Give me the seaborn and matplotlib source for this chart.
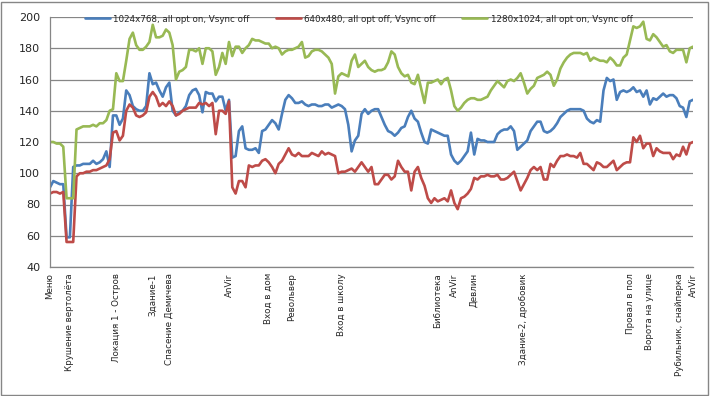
import matplotlib
matplotlib.use("Agg")
import matplotlib.pyplot as plt
import matplotlib.patches as mpatches
from matplotlib.lines import Line2D
from matplotlib.ticker import MultipleLocator
import pandas as pd
import seaborn as sns

series_names = ["1024x768, all opt on, Vsync off",
                "640x480, all opt off, Vsync off",
                "1280x1024, all opt on, Vsync off"]
colors = ["#4A7EBB", "#BE4B48", "#98B954"]

fps_1024 = [
    91, 95, 94, 93, 93, 59, 59, 104, 105, 105,
    106, 106, 106, 108, 106, 107, 109, 114, 104, 137,
    137, 131, 135, 153, 150, 143, 141, 140, 140, 143,
    164, 157, 158, 153, 149, 155, 158, 140, 137, 139,
    140, 143, 150, 153, 154, 150, 139, 152, 151, 151,
    146, 149, 149, 140, 147, 110, 111, 127, 130, 116,
    115, 115, 116, 113, 127, 128, 131, 134, 132, 128,
    138, 147, 150, 148, 145, 145, 146, 144, 143, 144,
    144, 143, 143, 144, 144, 142, 143, 144, 143, 141,
    131, 114, 121, 124, 138, 141, 138, 140, 141, 141,
    136, 131, 127, 126, 124, 126, 129, 130, 136, 140,
    135, 133, 126, 120, 119, 128, 127, 126, 125, 124,
    124, 112, 108, 106, 108, 111, 114, 126, 112, 122,
    121, 121, 120, 120, 120, 125, 127, 128, 128, 130,
    127, 115, 117, 119, 121, 127, 130, 133, 133, 127,
    126, 127, 129, 132, 136, 138, 140, 141, 141, 141,
    141, 140, 135, 133, 132, 134, 133, 153, 161, 159,
    160, 147, 152, 153, 152, 153, 155, 152, 153, 149,
    153, 144, 148, 147, 149, 151, 149, 150, 150, 148,
    143, 142, 136, 146, 147,
]

fps_640 = [
    87, 88, 88, 87, 88, 56, 56, 56, 98, 100,
    100, 101, 101, 102, 102, 103, 104, 105, 109, 126,
    127, 121, 124, 140, 144, 142, 137, 136, 137, 139,
    149, 152, 149, 143, 145, 143, 146, 143, 137, 138,
    140, 141, 142, 142, 142, 145, 144, 145, 143, 145,
    125, 140, 140, 138, 146, 91, 87, 95, 95, 91,
    105, 104, 105, 105, 108, 109, 107, 104, 100, 106,
    108, 112, 116, 112, 111, 113, 111, 111, 111, 113,
    112, 111, 114, 112, 113, 112, 111, 100, 101, 101,
    102, 103, 101, 104, 107, 104, 101, 104, 93, 93,
    96, 99, 99, 96, 98, 108, 104, 101, 101, 89,
    101, 104, 97, 92, 84, 81, 84, 82, 83, 84,
    82, 89, 81, 77, 84, 85, 87, 90, 97, 96,
    98, 98, 99, 98, 98, 99, 96, 96, 97, 99,
    101, 95, 89, 93, 97, 102, 104, 102, 104, 96,
    96, 106, 104, 108, 111, 111, 112, 111, 111, 110,
    113, 106, 106, 104, 102, 107, 106, 104, 104, 106,
    108, 102, 104, 106, 107, 107, 123, 120, 124, 116,
    119, 119, 111, 116, 114, 113, 113, 113, 109, 112,
    111, 117, 112, 119, 120,
]

fps_1280 = [
    120, 120, 119, 119, 117, 84, 84, 84, 128, 129,
    130, 130, 130, 131, 130, 132, 132, 134, 140, 141,
    164, 159, 159, 172, 186, 190, 182, 179, 179, 181,
    184, 195, 187, 187, 188, 192, 190, 182, 160, 165,
    166, 168, 179, 179, 178, 180, 170, 180, 180, 178,
    163, 168, 177, 170, 184, 175, 181, 181, 177, 180,
    182, 186, 185, 185, 184, 183, 183, 180, 181, 180,
    176, 178, 179, 179, 180, 181, 184, 174, 175, 178,
    179, 179, 178, 176, 174, 170, 151, 162, 164, 163,
    162, 172, 176, 168, 170, 172, 168, 166, 165, 166,
    166, 167, 171, 178, 176, 168, 164, 162, 163, 158,
    157, 163, 154, 145, 158, 158, 159, 160, 157, 160,
    161, 153, 143, 140, 142, 145, 147, 148, 148, 147,
    147, 148, 149, 153, 156, 159, 157, 155, 159, 160,
    159, 161, 164, 158, 151, 154, 156, 161, 162, 163,
    165, 163, 156, 160, 167, 171, 174, 176, 177, 177,
    177, 176, 177, 172, 174, 173, 172, 172, 171, 174,
    172, 169, 169, 174, 176, 185, 194, 193, 194, 197,
    186, 185, 189, 187, 184, 181, 182, 178, 177, 179,
    179, 179, 171, 180, 181,
]

# labelled moments of the run (index of the sample -> caption)
label_pos = [0, 6, 20, 31, 36, 54, 66, 73, 88, 117, 122, 128, 143, 175, 181, 190, 194]
label_text = ["Меню", "Крушение вертолёта", "Локация 1 - Остров", "Здание-1",
              "Спасение Демичева", "AnVir", "Вход в дом", "Револьвер",
              "Вход в школу", "Библиотека", "AnVir", "Девлин",
              "Здание-2, дробовик", "Провал в пол", "Ворота на улице",
              "Рубильник, снайперка", "AnVir"]

n = len(fps_1024)
df = pd.DataFrame({"sample": list(range(n)),
                   series_names[0]: fps_1024,
                   series_names[1]: fps_640,
                   series_names[2]: fps_1280})
long = df.melt(id_vars="sample", var_name="series", value_name="fps")

sns.set_style("white")
plt.rcParams["font.family"] = ["DejaVu Sans"]

fig = plt.figure(figsize=(7.1, 3.96), dpi=100)
ax = fig.add_axes([50 / 710, 1 - 267 / 396, 643 / 710, 250 / 396])

sns.lineplot(data=long, x="sample", y="fps", hue="series",
             hue_order=series_names, palette=colors, linewidth=1.9,
             sort=False, legend=False, ax=ax)

ax.set_xlim(0, n - 1)
ax.set_ylim(40, 200)
ax.yaxis.set_major_locator(MultipleLocator(20))
ax.yaxis.set_minor_locator(MultipleLocator(4))
ax.xaxis.set_major_locator(MultipleLocator(8))
ax.xaxis.set_minor_locator(MultipleLocator(4))
ax.set_xticklabels([])
ax.grid(axis="y", color="#868686", linewidth=0.9)
ax.set_axisbelow(True)
ax.set_xlabel("")
ax.set_ylabel("")

for side in ["top", "right"]:
    ax.spines[side].set_visible(False)
for side in ["left", "bottom"]:
    ax.spines[side].set_color("#868686")
    ax.spines[side].set_linewidth(0.9)

ax.tick_params(axis="y", which="major", direction="out", length=4,
               color="#868686", labelsize=8, pad=3)
ax.tick_params(axis="y", which="minor", direction="out", length=2.5,
               color="#868686")
ax.tick_params(axis="x", which="major", direction="inout", length=6,
               color="#868686")
ax.tick_params(axis="x", which="minor", direction="inout", length=4,
               color="#868686")

trans = ax.get_xaxis_transform()
for pos, txt in zip(label_pos, label_text):
    ax.text(pos, -0.025, txt, rotation=90, ha="center", va="top",
            fontsize=6.3, transform=trans)

handles = [Line2D([], [], color=c, linewidth=1.9) for c in colors]
ax.legend(handles, series_names, loc="center", bbox_to_anchor=(0.48, 0.992),
          ncol=3, frameon=False, fontsize=6.3, handlelength=2.9,
          columnspacing=3.0, handletextpad=0.35, borderpad=0.2)

fig.patches.append(mpatches.Rectangle((0.002, 0.003), 0.995, 0.993,
                                      transform=fig.transFigure, fill=False,
                                      edgecolor="#868686", linewidth=1))

fig.savefig("out.png", dpi=100)
